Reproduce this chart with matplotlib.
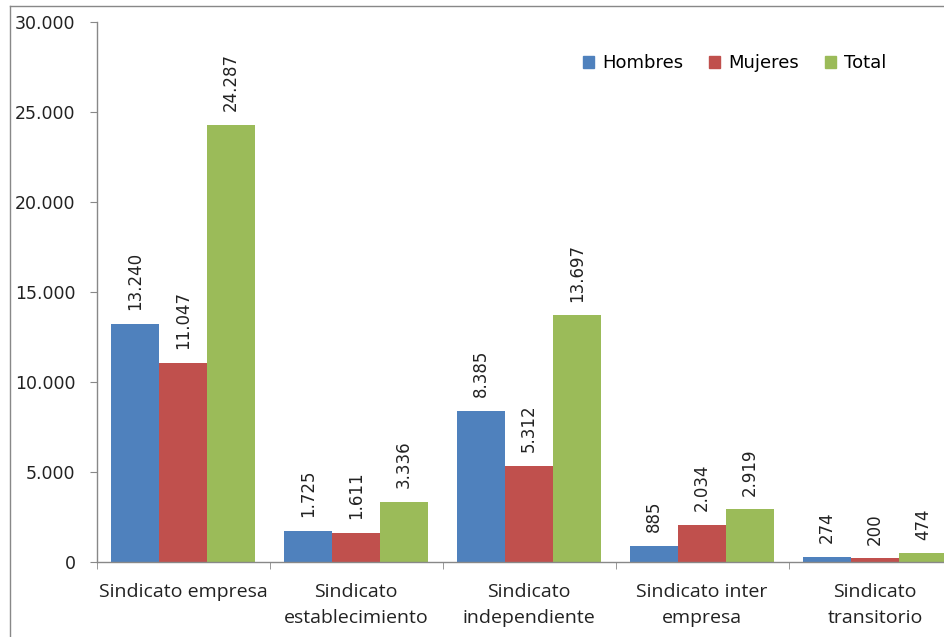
import matplotlib
matplotlib.use("Agg")
import matplotlib.pyplot as plt
import numpy as np
from matplotlib.patches import Rectangle
from matplotlib.lines import Line2D

categories = ["Sindicato empresa", "Sindicato\nestablecimiento", "Sindicato\nindependiente",
              "Sindicato inter\nempresa", "Sindicato\ntransitorio"]
hombres = [13240, 1725, 8385, 885, 274]
mujeres = [11047, 1611, 5312, 2034, 200]
total = [24287, 3336, 13697, 2919, 474]
series_names = ["Hombres", "Mujeres", "Total"]
colors = ["#4F81BD", "#C0504D", "#9BBB59"]
yticks = [0, 5000, 10000, 15000, 20000, 25000, 30000]

def fmt(v):
    return f"{v:,}".replace(",", ".")

plt.rcParams['font.family'] = ['DejaVu Sans']

fig = plt.figure(figsize=(9.44, 6.37), dpi=100)
W, H = 944, 637
left, right = 96.5 / W, (96.5 + 865) / W
bottom, top = (H - 562) / H, (H - 22) / H
ax = fig.add_axes([left, bottom, right - left, top - bottom])

x = np.arange(len(categories))
bw = 0.277
all_series = [hombres, mujeres, total]
for i, (vals, name, c) in enumerate(zip(all_series, series_names, colors)):
    pos = x + (i - 1) * bw
    ax.bar(pos, vals, width=bw, color=c, label=name, zorder=2)
    for p, v in zip(pos, vals):
        ax.annotate(fmt(v), (p, v), xytext=(0, 10), textcoords="offset points",
                    rotation=90, ha="center", va="bottom", fontsize=12, color="#222222")

ax.set_xlim(-0.5, len(categories) - 0.5)
ax.set_ylim(0, 30000)
ax.set_yticks(yticks)
ax.set_yticklabels([fmt(v) for v in yticks], fontsize=12.5, color="#222222")
ax.set_xticks(x)
ax.set_xticklabels(categories, fontsize=14, color="#222222", linespacing=1.55,
                   family=['Open Sans', 'DejaVu Sans'])
ax.tick_params(axis="x", length=0, pad=15)
ax.tick_params(axis="y", length=5, color="#888888", pad=10)
# category boundary ticks
ax.set_xticks(np.arange(len(categories) + 1) - 0.5, minor=True)
ax.tick_params(axis="x", which="minor", length=5, color="#888888")

for s in ["top", "right"]:
    ax.spines[s].set_visible(False)
for s in ["left", "bottom"]:
    ax.spines[s].set_color("#888888")
    ax.spines[s].set_linewidth(1)

handles = [Rectangle((0, 0), 1, 1, color=c) for c in colors]
leg = ax.legend(handles, series_names, loc="upper left",
                bbox_to_anchor=(576 / W, (H - 47) / H), bbox_transform=fig.transFigure,
                ncol=3, frameon=False, fontsize=13, handlelength=0.6, handleheight=0.6,
                handletextpad=0.45, columnspacing=1.45, borderaxespad=0)

# outer border (left and top only visible, as in the cropped reference)
fig.add_artist(Line2D([10 / W, 10 / W], [0, 1 - 6 / H], transform=fig.transFigure,
                      color="#888888", lw=1))
fig.add_artist(Line2D([10 / W, 1], [1 - 6 / H, 1 - 6 / H], transform=fig.transFigure,
                      color="#888888", lw=1))

fig.savefig("out.png", dpi=100)
